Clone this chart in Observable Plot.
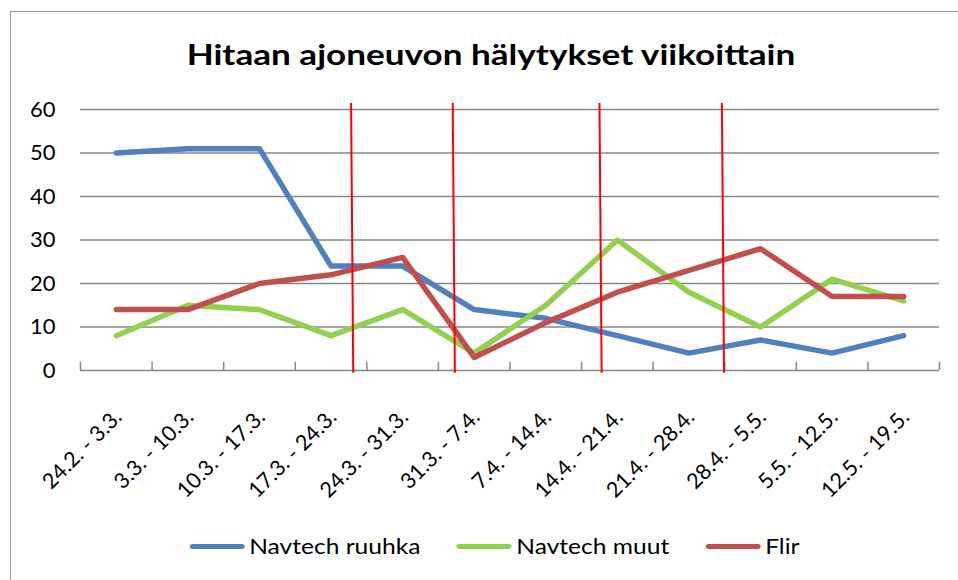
<!DOCTYPE html>
<html><head><meta charset="utf-8">
<script src="https://cdn.jsdelivr.net/npm/d3@7"></script>
<script src="https://cdn.jsdelivr.net/npm/@observablehq/plot@0.6"></script>
<style>
body{margin:0;background:#fff;}
#wrap{position:relative;width:958px;height:580px;overflow:hidden;font-family:Lato,"DejaVu Sans",sans-serif;background:#fff;}
#frame{position:absolute;left:10px;top:11px;width:980px;height:600px;border:1.5px solid #969696;box-sizing:border-box;}
#title{position:absolute;left:0;width:982px;top:39px;text-align:center;font-weight:bold;font-size:29px;line-height:1;color:#000;white-space:nowrap;transform:scaleX(1.21);transform-origin:491px 0;}
#chart{position:absolute;left:0;top:0;}
#legend{position:absolute;left:0;width:989px;top:535px;display:flex;justify-content:center;gap:31px;font-size:21px;line-height:22px;color:#000;transform:scaleX(1.17);transform-origin:494.5px 0;}
.item{display:flex;align-items:center;gap:4px;}
.sw{width:47px;height:5px;border-radius:3px;}
</style></head>
<body>
<div id="wrap">
  <div id="frame"></div>
  <div id="chart"></div>
  <div id="title">Hitaan ajoneuvon hälytykset viikoittain</div>
  <div id="legend"></div>
</div>
<script>
const categories = ["24.2. - 3.3.","3.3. - 10.3.","10.3. - 17.3.","17.3. - 24.3.","24.3. - 31.3.","31.3. - 7.4.","7.4. - 14.4.","14.4. - 21.4.","21.4. - 28.4.","28.4. - 5.5.","5.5. - 12.5.","12.5. - 19.5."];
const ruuhka = [50,51,51,24,24,14,12,8,4,7,4,8];
const muut   = [8,15,14,8,14,4,15,30,18,10,21,16];
const flir   = [14,14,20,22,26,3,11,18,23,28,17,17];
const seriesNames = ["Navtech ruuhka","Navtech muut","Flir"];
const seriesColors = ["#4F81BD","#92D050","#C0504D"];
const yTicks = [0,10,20,30,40,50,60];
const markerTop = [3.28,4.70,6.75,8.46];
const markerBottom = [3.31,4.73,6.78,8.49];

const rows = [];
[ruuhka, muut, flir].forEach((vals, s) => vals.forEach((v, i) => rows.push({series: seriesNames[s], i, v})));
const idx = categories.map((c, i) => i);
const bounds = d3.range(categories.length + 1).map(i => i - 0.5);

const chart = Plot.plot({
  width: 958, height: 580,
  marginTop: 109, marginBottom: 210, marginLeft: 80, marginRight: 19,
  x: {domain: [-0.5, categories.length - 0.5], axis: null},
  y: {domain: [0, 60]},
  color: {domain: seriesNames, range: seriesColors},
  style: {fontFamily: "Lato, sans-serif", background: "transparent", overflow: "visible"},
  marks: [
    Plot.ruleY(yTicks, {stroke: "#878787", strokeWidth: 1.5}),
    Plot.ruleX(bounds, {x: d => d, y1: 0, y2: 1.9, stroke: "#878787", strokeWidth: 1.5}),
    Plot.axisY({ticks: yTicks, tickSize: 0, tickPadding: 25, fontSize: 22, fill: "#000", label: null}),
    Plot.text(idx, {x: d => d, y: 0, text: d => categories[d], rotate: -45, textAnchor: "end", dx: 2, dy: 43, fontSize: 21.5, fill: "#000"}),
    Plot.lineY(rows, {x: "i", y: "v", z: "series", stroke: "series", strokeWidth: 5.5}),
    Plot.link(markerTop, {x1: d => d, x2: (d, i) => markerBottom[i], y1: 61.5, y2: -0.5, stroke: "#FF0000", strokeWidth: 2})
  ]
});
document.getElementById("chart").appendChild(chart);

const legend = document.getElementById("legend");
seriesNames.forEach((name, s) => {
  const it = document.createElement("div");
  it.className = "item";
  const sw = document.createElement("div");
  sw.className = "sw";
  sw.style.background = seriesColors[s];
  const t = document.createElement("span");
  t.textContent = name;
  it.appendChild(sw); it.appendChild(t);
  legend.appendChild(it);
});
</script>
</body></html>
